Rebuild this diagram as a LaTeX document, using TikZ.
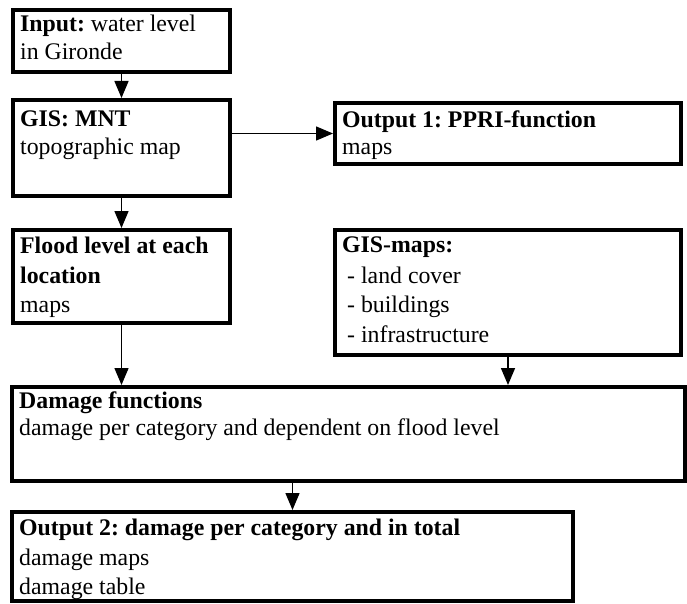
\documentclass[tikz,border=0pt]{standalone}
\usepackage{fontspec}
\setmainfont{Liberation Serif}
\frenchspacing
\usetikzlibrary{arrows.meta,fit}
\begin{document}
\begin{tikzpicture}[x=1pt,y=-1pt,
  box/.style={draw=black,line width=4pt,inner sep=0pt,fill=none},
  arr/.style={line width=1.5pt,-{Triangle[width=14pt,length=17pt]}},
  txt/.style={anchor=base west,inner sep=0pt,font=\fontsize{23.8}{29}\selectfont}]
\useasboundingbox (0,0) rectangle (687,604);
% box corners
\coordinate (i1) at (13,10);   \coordinate (i2) at (230,72);
\coordinate (g1) at (13,100);  \coordinate (g2) at (230,196);
\coordinate (o1) at (335,103); \coordinate (o2) at (681,164);
\coordinate (f1) at (13,230);  \coordinate (f2) at (230,323);
\coordinate (m1) at (335,230); \coordinate (m2) at (681,355);
\coordinate (d1) at (12,387);  \coordinate (d2) at (685,481);
\coordinate (p1) at (12,512);  \coordinate (p2) at (573,601);
\node[box,fit=(i1)(i2)] (input) {};
\node[box,fit=(g1)(g2)] (gis) {};
\node[box,fit=(o1)(o2)] (out1) {};
\node[box,fit=(f1)(f2)] (flood) {};
\node[box,fit=(m1)(m2)] (gismaps) {};
\node[box,fit=(d1)(d2)] (dmg) {};
\node[box,fit=(p1)(p2)] (out2) {};
% texts
\node[txt] (t1a) at (20,32) {\textbf{Input:} water level};
\node[txt] (t1b) at (20,60) {in Gironde};
\node[txt] (t2a) at (20,127) {\textbf{GIS: MNT}};
\node[txt] (t2b) at (20,155) {topographic map};
\node[txt] (t3a) at (342,128) {\textbf{Output 1: PPRI-function}};
\node[txt] (t3b) at (342,155) {maps};
\node[txt] (t4a) at (20,253) {\textbf{Flood level at each}};
\node[txt] (t4b) at (20,283) {\textbf{location}};
\node[txt] (t4c) at (20,312) {maps};
\node[txt] (t5a) at (342,252) {\textbf{GIS-maps:}};
\node[txt] (t5b) at (347,283) {- land cover};
\node[txt] (t5c) at (347,312) {- buildings};
\node[txt] (t5d) at (347,342) {- infrastructure};
\node[txt] (t6a) at (19,408) {\textbf{Damage functions}};
\node[txt] (t6b) at (19,435) {damage per category and dependent on flood level};
\node[txt] (t7a) at (19,535) {\textbf{Output 2: damage per category and in total}};
\node[txt] (t7b) at (19,565) {damage maps};
\node[txt] (t7c) at (19,594) {damage table};
% connectors
\draw[arr] (input.south) -- (input.south |- gis.north);
\draw[arr] (out1.west -| gis.east) -- (out1.west);
\draw[arr] (gis.south) -- (gis.south |- flood.north);
\draw[arr] (flood.south) -- (flood.south |- dmg.north);
\draw[arr] (gismaps.south) -- (gismaps.south |- dmg.north);
\draw[arr] (out2.north |- dmg.south) -- (out2.north);
\end{tikzpicture}
\end{document}
